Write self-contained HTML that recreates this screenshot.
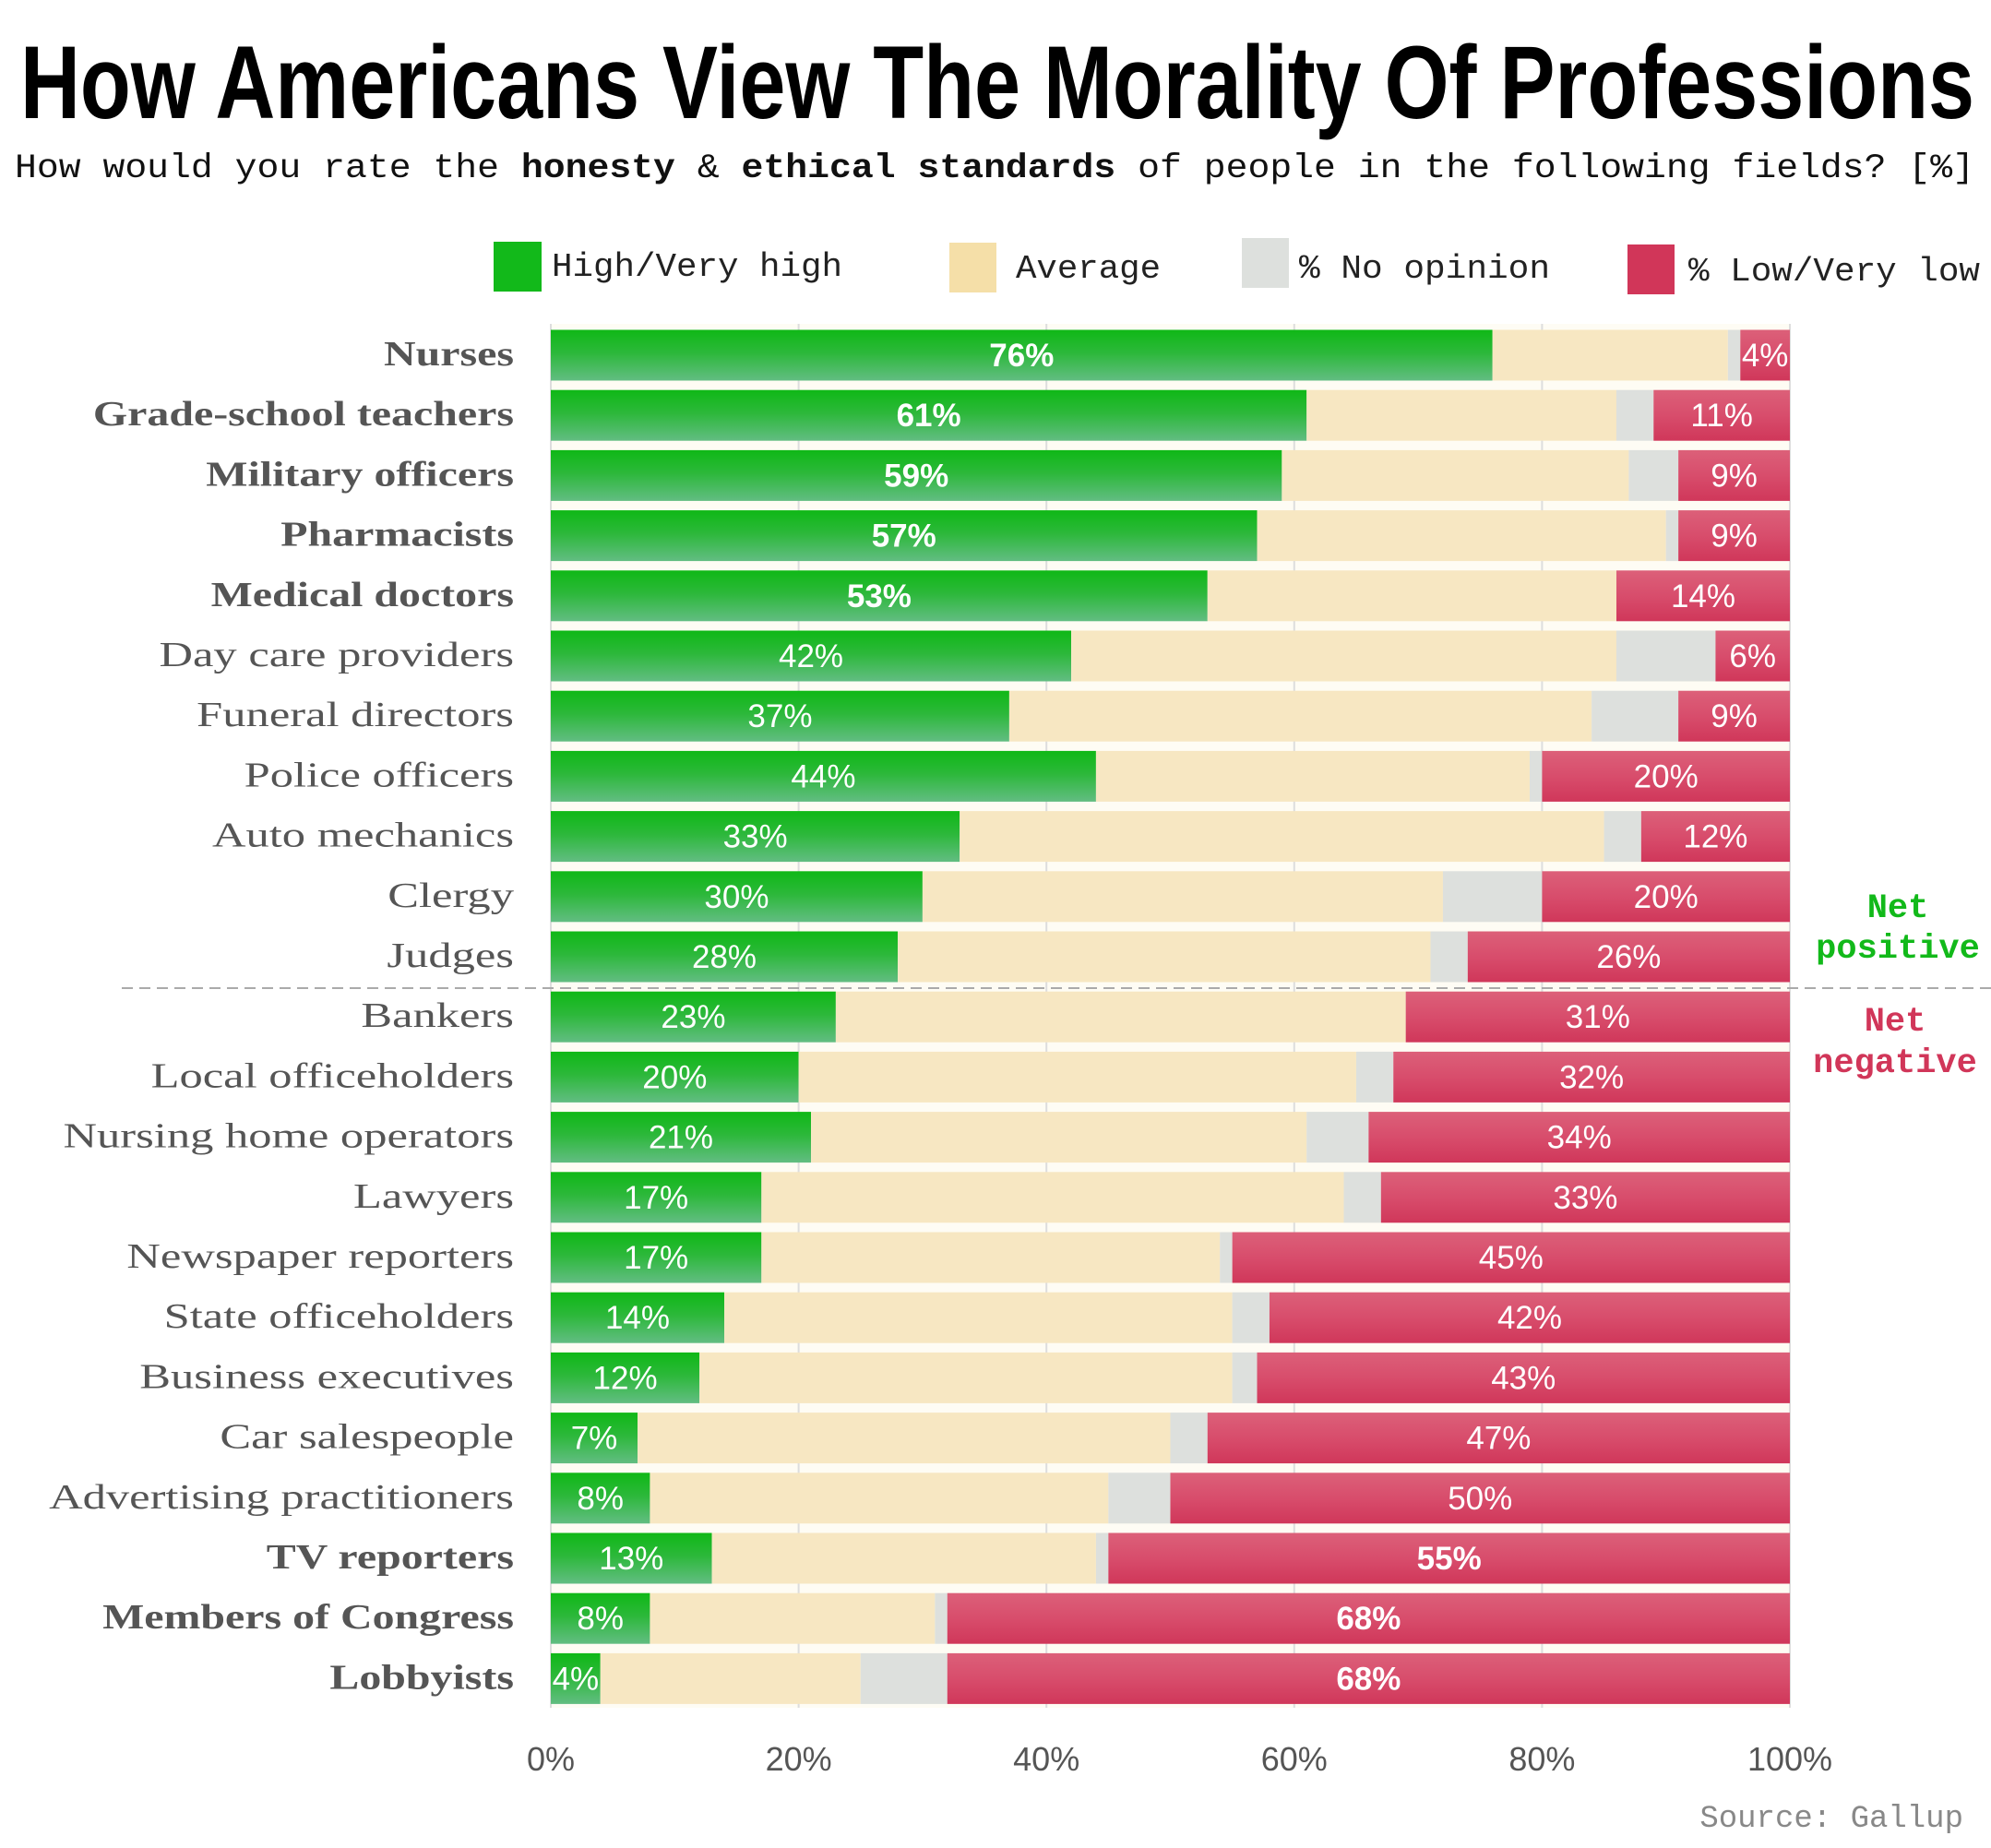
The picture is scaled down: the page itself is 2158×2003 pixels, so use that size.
<!DOCTYPE html>
<html><head><meta charset="utf-8"><style>
html,body{margin:0;padding:0;background:#fff;}
svg{display:block;}
</style></head><body>
<svg id="chart" width="2158" height="2003" viewBox="0 0 2158 2003" xmlns="http://www.w3.org/2000/svg">
<defs>
<linearGradient id="gGreen" x1="0" y1="0" x2="0" y2="1"><stop offset="0" stop-color="#0fb816"/><stop offset="0.45" stop-color="#2cb83a"/><stop offset="1" stop-color="#62bd82"/></linearGradient>
<linearGradient id="gRed" x1="0" y1="0" x2="0" y2="1"><stop offset="0" stop-color="#dc6079"/><stop offset="0.5" stop-color="#d84d6c"/><stop offset="1" stop-color="#d0375a"/></linearGradient>
</defs>
<text x="22" y="128" font-family="Liberation Sans, sans-serif" font-weight="bold" font-size="112" textLength="2118" lengthAdjust="spacingAndGlyphs" fill="#000">How Americans View The Morality Of Professions</text>
<text x="16" y="192" font-family="Liberation Mono, monospace" font-size="37" textLength="2124" lengthAdjust="spacingAndGlyphs" fill="#111">How would you rate the <tspan font-weight="bold">honesty</tspan> &amp; <tspan font-weight="bold">ethical standards</tspan> of people in the following fields? [%]</text>
<g font-family="Liberation Mono, monospace" font-size="36" fill="#222">
<g><rect x="535" y="262" width="52" height="54" fill="#12b91a"/><text x="598" y="299" textLength="315" lengthAdjust="spacingAndGlyphs">High/Very high</text></g>
<g><rect x="1029" y="263" width="51" height="54" fill="#f5dfa8"/><text x="1101" y="301" textLength="157" lengthAdjust="spacingAndGlyphs">Average</text></g>
<g><rect x="1346" y="258" width="51" height="54" fill="#dde0dd"/><text x="1408" y="301" textLength="272" lengthAdjust="spacingAndGlyphs">% No opinion</text></g>
<g><rect x="1764" y="265" width="51" height="54" fill="#d13659"/><text x="1830" y="304" textLength="316" lengthAdjust="spacingAndGlyphs">% Low/Very low</text></g>
</g>
<rect x="597" y="351" width="1343" height="1500" fill="#fefcf4"/>
<g id="grid"></g>
<g id="bars"></g>
<g id="labels"></g>
<g id="xaxis"></g>
<line x1="132" y1="1071" x2="2158" y2="1071" stroke="#aaa" stroke-width="2" stroke-dasharray="12,7"/>
<g font-family="Liberation Mono, monospace" font-weight="bold" font-size="37" fill="#12b91a" text-anchor="middle"><text x="2057" y="994">Net</text><text x="2057" y="1038">positive</text></g>
<g font-family="Liberation Mono, monospace" font-weight="bold" font-size="37" fill="#d13659" text-anchor="middle"><text x="2054" y="1117">Net</text><text x="2054" y="1162">negative</text></g>
<text x="2128" y="1980" text-anchor="end" font-family="Liberation Mono, monospace" font-size="34" fill="#888">Source: Gallup</text>
</svg>
<script>
const categories=["Nurses","Grade-school teachers","Military officers","Pharmacists","Medical doctors","Day care providers","Funeral directors","Police officers","Auto mechanics","Clergy","Judges","Bankers","Local officeholders","Nursing home operators","Lawyers","Newspaper reporters","State officeholders","Business executives","Car salespeople","Advertising practitioners","TV reporters","Members of Congress","Lobbyists"];
const highVals=[76,61,59,57,53,42,37,44,33,30,28,23,20,21,17,17,14,12,7,8,13,8,4];
const avgVals=[19,25,28,33,33,44,47,35,52,42,43,46,45,40,47,37,41,43,43,37,31,23,21];
const noOpVals=[1,3,4,1,0,8,7,1,3,8,3,0,3,5,3,1,3,2,3,5,1,1,7];
const lowVals=[4,11,9,9,14,6,9,20,12,20,26,31,32,34,33,45,42,43,47,50,55,68,68];
const boldLabel=[true,true,true,true,true,false,false,false,false,false,false,false,false,false,false,false,false,false,false,false,true,true,true];
const boldHigh=[true,true,true,true,true,false,false,false,false,false,false,false,false,false,false,false,false,false,false,false,false,false,false];
const boldLow=[false,false,false,false,false,false,false,false,false,false,false,false,false,false,false,false,false,false,false,false,true,true,true];
const xTicks=[0,20,40,60,80,100];
const xTickLabels=["0%","20%","40%","60%","80%","100%"];

const NS="http://www.w3.org/2000/svg";
const X0=597,X1=1940,Y0=385,STEP=65.2,BH=55;
const xs=v=>X0+(X1-X0)*v/100;
const yc=i=>Y0+i*STEP;
function mk(tag,attrs,parent){const e=document.createElementNS(NS,tag);for(const k in attrs)e.setAttribute(k,attrs[k]);parent.appendChild(e);return e;}
const grid=document.getElementById('grid'),bars=document.getElementById('bars'),labels=document.getElementById('labels'),xaxis=document.getElementById('xaxis');
xTicks.forEach((t,k)=>{
  const l=mk('line',{x1:xs(t),x2:xs(t),y1:351,y2:1851,stroke:'#ddd','stroke-width':2},grid);
  
  
  const tx=mk('text',{x:xs(t),y:1919,'text-anchor':'middle','font-family':'Liberation Sans, sans-serif','font-size':36,fill:'#555'},xaxis);
  tx.textContent=xTickLabels[k];
  
  
});
categories.forEach((c,i)=>{
  const y=yc(i)-BH/2;
  const segs=[[highVals[i],'url(#gGreen)','high'],[avgVals[i],'#f7e7c2','average'],[noOpVals[i],'#dde0dd','no-opinion'],[lowVals[i],'url(#gRed)','low']];
  let acc=0;
  const g=mk('g',{},bars);
  
  
  segs.forEach(s=>{
    if(s[0]<=0)return;
    const r=mk('rect',{x:xs(acc),y:y,width:xs(acc+s[0])-xs(acc),height:BH,fill:s[1]},g);
    
    
    acc+=s[0];
  });
  const tg=mk('text',{x:(xs(0)+xs(highVals[i]))/2,y:yc(i)+12,'text-anchor':'middle','font-family':'Liberation Sans, sans-serif','font-size':35,'font-weight':boldHigh[i]?'bold':'normal',fill:'#fff'},g);
  tg.textContent=highVals[i]+'%';
  
  
  const lowStart=100-lowVals[i];
  const tr=mk('text',{x:(xs(lowStart)+xs(100))/2,y:yc(i)+12,'text-anchor':'middle','font-family':'Liberation Sans, sans-serif','font-size':35,'font-weight':boldLow[i]?'bold':'normal',fill:'#fff'},g);
  tr.textContent=lowVals[i]+'%';
  
  
  const lb=mk('text',{x:557,y:yc(i)+11,'text-anchor':'end','font-family':'Liberation Serif, serif','font-size':38,'font-weight':boldLabel[i]?'bold':'normal',fill:'#555'},labels);
  lb.textContent=c;
  
  
  const w=lb.getComputedTextLength();
  lb.setAttribute('textLength',(w*(boldLabel[i]?1.26:1.33)).toFixed(1));
  lb.setAttribute('lengthAdjust','spacingAndGlyphs');
});
</script>
</body></html>
